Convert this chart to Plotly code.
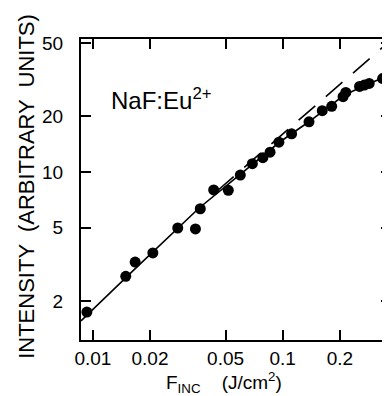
import plotly.graph_objects as go

# measured data points
fluence = [0.0093, 0.0149, 0.0167, 0.0207, 0.0280, 0.0347, 0.0368, 0.0433, 0.0517,
           0.0598, 0.0692, 0.0786, 0.0858, 0.0955, 0.1114, 0.1376, 0.1616, 0.1812,
           0.208, 0.215, 0.254, 0.269, 0.2855, 0.336, 0.359]
intensity = [1.74, 2.72, 3.25, 3.64, 4.97, 4.91, 6.32, 7.99, 7.96,
             9.63, 11.1, 11.95, 12.8, 14.5, 16.1, 18.7, 21.5, 22.7,
             25.6, 27.0, 29.1, 29.6, 30.2, 32.1, 33.0]

# solid fitted curve
fit_x = [0.00866, 0.0164, 0.0363, 0.0596, 0.0965, 0.1368, 0.2112, 0.2753, 0.372]
fit_y = [1.557, 2.94, 6.38, 9.63, 14.54, 18.66, 26.15, 29.6, 33.96]

# dashed linear extrapolation
ext_x = [0.0451, 0.372]
ext_y = [7.89, 51.9]

x_ticks = [0.01, 0.02, 0.05, 0.1, 0.2]
x_ticktext = ["0.01", "0.02", "0.05", "0.1", "0.2"]
y_ticks = [2, 5, 10, 20, 50]
y_ticktext = ["2", "5", "10", "20", "50"]

fig = go.Figure()
fig.add_trace(go.Scatter(x=fit_x, y=fit_y, mode="lines",
                         line=dict(color="black", width=1.6), showlegend=False))
fig.add_trace(go.Scatter(x=ext_x, y=ext_y, mode="lines",
                         line=dict(color="black", width=1.6, dash="22px,14px"),
                         showlegend=False))
fig.add_trace(go.Scatter(x=fluence, y=intensity, mode="markers",
                         marker=dict(color="black", size=11), showlegend=False))

font = "Liberation Sans, Arial, sans-serif"
axis_common = dict(type="log", showgrid=False, zeroline=False, showline=True,
                   linecolor="black", linewidth=2, mirror="allticks",
                   ticks="inside", ticklen=10, tickwidth=1.5, tickcolor="black",
                   tickfont=dict(family=font, size=19, color="black"))

fig.update_layout(
    width=390, height=396,
    margin=dict(l=73, r=5, t=31, b=64),
    paper_bgcolor="white", plot_bgcolor="white",
    xaxis=dict(range=[-2.0625, -0.4295], tickvals=x_ticks, ticktext=x_ticktext,
               ticklabelstandoff=0, **axis_common),
    yaxis=dict(range=[0.0892, 1.721], tickvals=y_ticks, ticktext=y_ticktext,
               ticklabelstandoff=12, **axis_common),
    annotations=[
        dict(text="NaF:Eu<sup>2+</sup>", x=0.09, y=0.80, xref="paper", yref="paper",
             xanchor="left", yanchor="middle", showarrow=False,
             font=dict(family=font, size=24, color="black")),
        dict(text="INTENSITY  (ARBITRARY  UNITS)", x=(18 - 73) / 312, y=0.51,
             xref="paper", yref="paper", xanchor="center", yanchor="middle",
             showarrow=False, textangle=-90,
             font=dict(family=font, size=22, color="black")),
        dict(text="F<sub>INC</sub>    (J/cm<sup>2</sup>)", x=0.46, y=-(374 - 332) / 301,
             xref="paper", yref="paper", xanchor="center", yanchor="middle",
             showarrow=False,
             font=dict(family=font, size=19, color="black")),
    ],
)

fig.write_html("out.html")
